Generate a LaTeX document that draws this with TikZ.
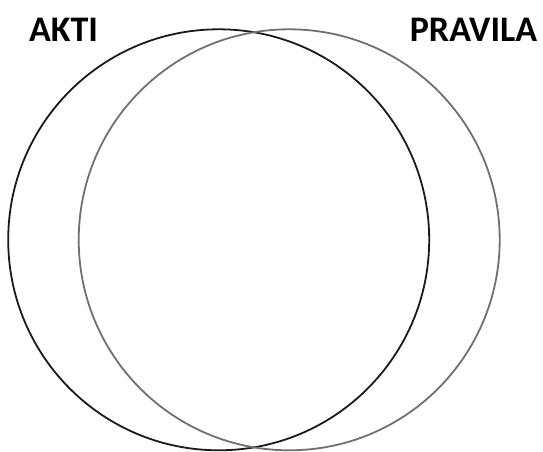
\documentclass[tikz,border=0pt]{standalone}
\usepackage{fontspec}
\setmainfont{Carlito}
\usetikzlibrary{positioning}
\definecolor{ActsBlack}{HTML}{1A1A1A}
\definecolor{RulesGray}{HTML}{707070}
\tikzset{
  setcircle/.style={
    circle,
    draw=#1,
    line width=1.8pt,
    inner sep=0pt,
    minimum size=421pt
  },
  setlabel/.style={
    anchor=base,
    inner sep=0pt,
    text=black,
    font=\fontsize{36}{40}\selectfont\bfseries
  }
}

\begin{document}
\begin{tikzpicture}[x=1pt,y=-1pt]
      \useasboundingbox (0,0) rectangle (543,452);
      % the two sets
      \node[setcircle=ActsBlack] (akti) at (218.7,239.8) {};
      \node[setcircle=RulesGray] (pravila) at (289.2,239.8) {};
      % titles
      \node[setlabel] (aktiLabel) at (63.5,41.5) {AKTI};
      \node[setlabel] (pravilaLabel) at (473.5,41.5) {PRAVILA};
    \end{tikzpicture}
\end{document}
